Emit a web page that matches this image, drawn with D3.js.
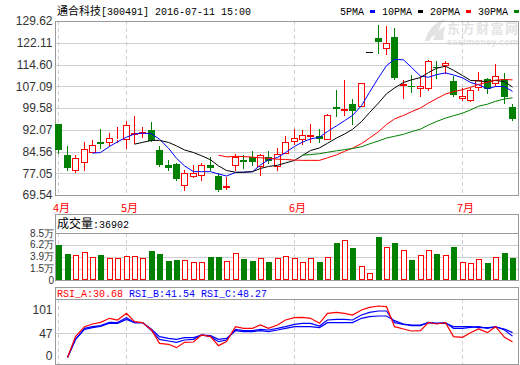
<!DOCTYPE html>
<html><head><meta charset="utf-8">
<script src="https://cdn.jsdelivr.net/npm/d3@7/dist/d3.min.js"></script>
<style>body{margin:0;background:#fff}svg{display:block}</style>
</head><body><svg id="c" width="520" height="365"></svg>
<script>
// ---------- data ----------
const stockName = "通合科技";
const stockInfo = "[300491] 2016-07-11 15:00";
const priceTicks = [129.62,122.11,114.60,107.09,99.58,92.07,84.56,77.05,69.54];
const volTicks = [8.5,6.2,3.9,1.5,0];
const volTickLabels = ["8.5万","6.2万","3.9万","1.5万","0"];
const rsiTicks = [101,47,0];
const monthLabels = ["4月","5月","6月","7月"];
const monthStart = [0,8,28,48];
const maNames = ["5PMA","10PMA","20PMA","30PMA"];
const volTitle = "成交量";
const volNow = "36902";
const rsiNames = ["RSI_A","RSI_B","RSI_C"];
const rsiNow = ["30.68","41.54","48.27"];
const brandName = "东方财富网";
const brandSite = "eastmoney.com";

const open  = [94.1,83.4,78.0,80.9,84.3,87.9,87.8,88.8,88.8,90.6,90.9,92.0,85.1,79.9,80.4,72.9,76.2,76.4,80.0,76.1,72.3,79.8,81.7,82.8,79.7,82.8,79.7,84.2,88.2,88.8,90.0,90.0,88.8,100.0,99.0,101.05,100.1,119.0,123.6,120.3,124.1,107.5,107.1,106.5,106.5,113.6,114.3,109.0,103.1,102.2,106.7,109.6,108.2,109.6,99.9];
const high  = [94.1,86.5,83.2,88.0,88.4,92.5,90.9,92.9,95.2,96.9,92.9,94.8,86.3,81.6,80.7,78.2,79.8,80.7,82.8,77.3,75.9,83.6,83.4,84.6,83.6,84.6,85.7,90.0,92.5,92.0,94.1,92.5,97.6,105.9,109.4,102.8,108.2,119.0,128.4,127.8,127.3,109.4,111.1,110.8,116.3,115.9,115.7,110.8,106.5,106.5,112.0,110.0,114.9,111.7,100.9];
const low   = [84.1,78.0,77.6,78.3,84.3,85.7,86.3,87.8,85.9,87.4,89.7,88.1,79.4,78.3,74.7,71.3,75.9,74.7,78.2,71.0,71.6,78.0,79.0,79.9,76.5,80.5,78.0,84.2,87.1,87.1,87.9,87.8,88.8,96.7,97.2,94.0,100.1,119.0,118.6,118.3,109.6,103.2,105.0,103.8,105.9,110.0,111.7,103.6,102.3,101.9,105.7,104.8,107.6,101.3,95.5];
const close = [85.1,78.7,82.4,85.5,86.9,87.3,89.3,89.0,93.7,91.0,91.2,88.1,80.0,79.0,75.2,77.0,77.2,79.8,79.0,71.3,72.5,82.8,81.0,81.1,83.4,81.4,83.6,87.8,89.2,90.2,90.3,88.9,97.1,99.4,99.2,98.4,108.2,119.0,122.5,122.1,110.0,107.9,106.7,107.3,115.9,113.3,115.1,103.9,103.6,105.9,109.4,106.1,110.5,103.4,95.9];
const volume = [6.13,4.39,4.14,4.72,3.81,4.2,3.62,3.62,3.95,3.95,3.62,4.97,4.39,3.04,3.24,3.18,2.79,2.79,3.81,3.81,2.99,4.53,3.43,3.04,3.56,2.85,3.56,3.95,3.56,2.79,3.56,2.85,3.81,6.51,7.09,5.61,2.08,0.67,7.67,5.74,6.51,5.1,3.24,4.14,5.1,4.39,4.14,5.74,2.79,2.6,3.37,2.66,3.81,4.59,3.69];

const ma5 = [null,null,null,null,84.0,84.2,86.3,87.9,89.5,90.6,90.9,90.7,88.8,85.7,82.2,79.6,77.6,77.6,77.6,76.8,76.1,77.3,77.4,77.6,79.9,81.7,82.5,84.2,86.3,87.8,88.9,89.5,91.5,93.4,95.2,97.0,100.4,105.0,110.0,114.2,116.4,116.2,113.6,110.6,110.2,111.1,111.7,111.0,110.0,108.4,107.6,106.2,107.0,107.0,105.3];
const ma10 = [null,null,null,null,null,null,null,null,null,87.1,87.7,88.4,88.4,87.7,86.5,85.1,84.2,83.1,81.7,79.6,78.0,77.4,77.4,77.6,78.7,79.4,79.8,80.6,81.5,83.2,84.9,85.8,87.4,89.2,90.6,92.2,94.9,98.0,101.3,104.5,106.5,108.4,109.3,110.1,111.8,113.3,114.0,112.6,110.8,109.1,108.9,108.7,109.1,108.7,106.8];
const ma20 = [null,null,null,null,null,null,null,null,null,null,null,null,null,null,null,null,null,null,null,83.3,82.7,82.9,82.8,82.6,82.4,82.2,81.9,81.8,81.6,81.5,81.5,81.5,82.4,83.4,84.6,85.7,87.3,89.2,91.4,93.9,95.8,97.0,98.3,99.6,101.3,102.8,104.4,105.2,105.9,106.7,107.7,108.5,109.2,109.4,109.3];
const ma30 = [null,null,null,null,null,null,null,null,null,null,null,null,null,null,null,null,null,null,null,null,null,null,null,null,null,null,null,null,null,83.3,83.5,83.8,84.3,84.8,85.2,85.6,86.2,87.2,88.2,89.2,89.8,90.5,91.4,92.3,93.7,94.9,96.1,96.9,97.8,98.9,100.2,100.9,101.9,102.7,103.1];

const rsiA = [null,0,40.5,59.9,65.1,68.3,76.1,72.8,85.8,69.6,67.7,53.4,27.5,25.6,19.1,29.5,30.1,43.7,40.5,23.0,30.8,59.9,56.7,56.7,63.1,56.7,63.1,72.8,77.4,78.0,76.1,66.4,85.8,87.7,85.8,82.5,92.3,97.4,100,98.7,59.9,55.4,51.5,52.1,68.3,65.1,67.7,40.5,39.2,48.2,55.4,48.2,59.9,39.2,30.68];
const rsiB = [null,0,35.3,56.7,59.9,61.8,68.3,67.7,77.4,67.7,67.7,52.1,35.3,32.1,29.5,34.0,35.3,43.7,40.5,30.8,34.0,54.7,52.1,52.1,54.7,53.4,56.7,59.9,64.4,66.4,66.4,61.2,72.8,74.1,74.1,72.8,82.5,87.7,90.3,90.3,67.7,64.4,61.8,61.8,68.3,66.4,67.7,56.7,56.7,58.6,59.9,56.7,59.9,53.4,41.54];
const rsiC = [null,0,35,54.7,58.0,60.5,66.4,66.4,74.1,67.7,67.7,54.7,40.5,37.2,35.3,38.5,38.5,43.7,42.4,35.3,37.2,52.1,50.2,50.2,52.1,50.2,53.4,56.7,59.9,59.9,59.9,58.0,67.7,67.7,67.7,67.7,76.1,79.3,80.6,80.6,71.5,65.1,63.1,63.1,67.7,66.4,66.4,59.9,59.9,59.9,58.0,58.0,59.2,55.4,48.27];

// ---------- styles ----------
const RED="#ff0000", GREEN="#008000", BLUE="#0000ff", BLACK="#000000";
const maColors=[BLUE,BLACK,RED,GREEN];
const FRAME="#9a9a9a", GRID="#cfcfcf";
const MONO="'Liberation Mono','DejaVu Sans Mono',monospace";
const SANS="'Liberation Sans',Arial,sans-serif";
const CJK="'Noto Sans CJK SC','Noto Sans',sans-serif";

const svg=d3.select("#c");
svg.append("rect").attr("width",520).attr("height",365).attr("fill","#fff");
const N=close.length;
const L=55, R=519;
const x=d3.scaleBand().domain(d3.range(N)).range([54.1,516.1]).padding(0);
const cx=i=>Math.round(x(i)+x.bandwidth()/2);
const yP=d3.scaleLinear().domain([69.54,129.62]).range([195,21]);
const yV=d3.scaleLinear().domain([-0.7,8.5]).range([280,233]);
const yR=d3.scaleLinear().domain([0,100]).range([357.5,306]);

// ---------- watermark ----------
const wm=svg.append("g").attr("fill","#e3e3e3");
wm.append("path").attr("d","M425,41 C428,30 434,22 446,19 C440,24 437,30 440,38 C436,33 432,35 429,41 Z");
wm.append("path").attr("d","M433,40 C436,33 440,28 446,26 C443,31 443,35 444,40 Z");
wm.append("text").attr("x",447).attr("y",33.2).attr("font-weight","bold").attr("font-family",CJK)
  .attr("font-size",13).attr("textLength",71).text(brandName);
wm.append("text").attr("x",447).attr("y",45.3).attr("font-weight","bold").attr("font-family",SANS)
  .attr("font-size",9).attr("textLength",71).text(brandSite);

// ---------- header ----------
const hd=svg.append("text").attr("x",57).attr("y",15).attr("fill","#000");
hd.append("tspan").attr("font-family",CJK).attr("font-size",11).text(stockName);
hd.append("tspan").attr("font-family",MONO).attr("font-size",10).text(stockInfo);

// legend
let lx=340;
maNames.forEach((n,k)=>{
  const t=svg.append("text").attr("x",lx).attr("y",15).attr("font-family",MONO).attr("font-size",10).attr("fill","#000").text(n);
  const w=t.node().getComputedTextLength();
  svg.append("rect").attr("x",Math.round(lx+w+6)).attr("y",10).attr("width",5).attr("height",3).attr("fill",maColors[k]);
  lx=lx+w+6+5+7;
});

// ---------- main panel ----------
const gm=svg.append("g");
priceTicks.slice(1,-1).forEach(v=>{
  const yy=Math.round(yP(v))+0.5;
  gm.append("line").attr("x1",L).attr("x2",R).attr("y1",yy).attr("y2",yy).attr("stroke",GRID);
});
monthStart.forEach(i=>{
  gm.append("line").attr("x1",cx(i)+0.5).attr("x2",cx(i)+0.5).attr("y1",yP(129.62)).attr("y2",yP(69.54))
    .attr("stroke",GRID).attr("stroke-dasharray","4,3");
});
gm.append("rect").attr("x",L+0.5).attr("y",Math.round(yP(129.62))+0.5).attr("width",R-L-1)
  .attr("height",Math.round(yP(69.54))-Math.round(yP(129.62))).attr("fill","none").attr("stroke",FRAME);
priceTicks.forEach(v=>{
  gm.append("text").attr("x",52.5).attr("y",yP(v)).attr("dy","0.36em").attr("text-anchor","end")
    .attr("font-family",SANS).attr("font-size",12).attr("fill","#333").text(v.toFixed(2));
});
monthStart.forEach((i,k)=>{
  svg.append("text").attr("x",cx(i)-5).attr("y",212).attr("font-family",CJK).attr("font-size",11)
    .attr("fill",RED).text(monthLabels[k]);
});

// candles
const gc=svg.append("g").attr("shape-rendering","crispEdges");
d3.range(N).forEach(i=>{
  const o=open[i],c=close[i],h=high[i],l=low[i];
  const p=cx(i);
  const top=Math.round(yP(Math.max(o,c))), bot=Math.round(yP(Math.min(o,c)));
  const yh=Math.round(yP(h)), yl=Math.round(yP(l));
  if(c>o){
    if(yh<top) gc.append("line").attr("x1",p+0.5).attr("x2",p+0.5).attr("y1",yh).attr("y2",top).attr("stroke",RED);
    if(yl>bot) gc.append("line").attr("x1",p+0.5).attr("x2",p+0.5).attr("y1",bot+1).attr("y2",yl+1).attr("stroke",RED);
    gc.append("rect").attr("x",p-2.5).attr("y",top+0.5).attr("width",6).attr("height",Math.max(bot-top,0))
      .attr("fill","#fff").attr("stroke",RED);
  } else if(c<o){
    gc.append("line").attr("x1",p+0.5).attr("x2",p+0.5).attr("y1",yh).attr("y2",yl+1).attr("stroke",GREEN);
    gc.append("rect").attr("x",p-3).attr("y",top).attr("width",7).attr("height",Math.max(bot-top,1)).attr("fill",GREEN);
  } else {
    if(yl>yh) gc.append("line").attr("x1",p+0.5).attr("x2",p+0.5).attr("y1",yh).attr("y2",yl+1).attr("stroke",BLACK);
    gc.append("line").attr("x1",p-3).attr("x2",p+4).attr("y1",top+0.5).attr("y2",top+0.5).attr("stroke",BLACK);
  }
});

// moving averages
[ma5,ma10,ma20,ma30].forEach((arr,k)=>{
  const ln=d3.line().defined(d=>d!=null).x((d,i)=>cx(i)+0.5).y(d=>yP(d));
  svg.append("path").attr("d",ln(arr)).attr("fill","none").attr("stroke",maColors[k]).attr("stroke-width",1);
});

// ---------- volume panel ----------
const gv=svg.append("g");
const vTop=214, vBot=280;
[6.2,3.9,1.5].forEach(v=>{
  const yy=Math.round(yV(v))+0.5;
  gv.append("line").attr("x1",L).attr("x2",R).attr("y1",yy).attr("y2",yy).attr("stroke",GRID);
});
monthStart.forEach(i=>{
  gv.append("line").attr("x1",cx(i)+0.5).attr("x2",cx(i)+0.5).attr("y1",yV(8.5)).attr("y2",vBot)
    .attr("stroke",GRID).attr("stroke-dasharray","4,3");
});
gv.append("rect").attr("x",L+0.5).attr("y",vTop+0.5).attr("width",R-L-1).attr("height",vBot-vTop)
  .attr("fill","none").attr("stroke",FRAME);
gv.append("line").attr("x1",L).attr("x2",R).attr("y1",Math.round(yV(8.5))+0.5).attr("y2",Math.round(yV(8.5))+0.5).attr("stroke",FRAME);
const vt=gv.append("text").attr("x",57).attr("y",228).attr("fill","#000");
vt.append("tspan").attr("font-family",CJK).attr("font-size",12).text(volTitle);
vt.append("tspan").attr("font-family",MONO).attr("font-size",10).text(":"+volNow);
volTicks.forEach((v,k)=>{
  gv.append("text").attr("x",54).attr("y",v===0?280.5:yV(v)).attr("dy","0.36em").attr("text-anchor","end")
    .attr("font-family",SANS).attr("font-size",10).attr("fill","#333").text(volTickLabels[k]);
});
const gb=svg.append("g").attr("shape-rendering","crispEdges");
d3.range(N).forEach(i=>{
  const p=cx(i), yy=Math.round(yV(volume[i]));
  if(close[i]<open[i]){
    gb.append("rect").attr("x",p-2).attr("y",yy).attr("width",6).attr("height",vBot-yy).attr("fill",GREEN);
  } else {
    gb.append("rect").attr("x",p-1.5).attr("y",yy+0.5).attr("width",5).attr("height",vBot-yy-1).attr("fill","#fff").attr("stroke",RED);
  }
});

// ---------- RSI panel ----------
const gr=svg.append("g");
const rTop=287, rSep=299, rBot=364;
gr.append("line").attr("x1",L).attr("x2",R).attr("y1",Math.round(yR(47))+0.5).attr("y2",Math.round(yR(47))+0.5).attr("stroke",GRID);
monthStart.forEach(i=>{
  gr.append("line").attr("x1",cx(i)+0.5).attr("x2",cx(i)+0.5).attr("y1",rSep).attr("y2",rBot)
    .attr("stroke",GRID).attr("stroke-dasharray","4,3");
});
gr.append("rect").attr("x",L+0.5).attr("y",rTop+0.5).attr("width",R-L-1).attr("height",rBot-rTop)
  .attr("fill","none").attr("stroke",FRAME);
gr.append("line").attr("x1",L).attr("x2",R).attr("y1",rSep+0.5).attr("y2",rSep+0.5).attr("stroke",FRAME);
const rt=gr.append("text").attr("x",57).attr("y",297).attr("font-family",MONO).attr("font-size",10);
rsiNames.forEach((n,k)=>{
  rt.append("tspan").attr("fill",k===0?RED:BLUE).text(n+":"+rsiNow[k]+(k<2?" ":""));
});
rsiTicks.forEach(v=>{
  gr.append("text").attr("x",52.5).attr("y",Math.max(310,Math.min(yR(v),355.7))).attr("dy","0.36em").attr("text-anchor","end")
    .attr("font-family",SANS).attr("font-size",12).attr("fill","#333").text(v);
});
const rl=d3.line().defined(d=>d!=null).x((d,i)=>cx(i)+0.5).y(d=>yR(d));
[[rsiC,BLUE],[rsiB,BLUE],[rsiA,RED]].forEach(([arr,col])=>{
  svg.append("path").attr("d",rl(arr)).attr("fill","none").attr("stroke",col).attr("stroke-width",1.2);
});
</script></body></html>
